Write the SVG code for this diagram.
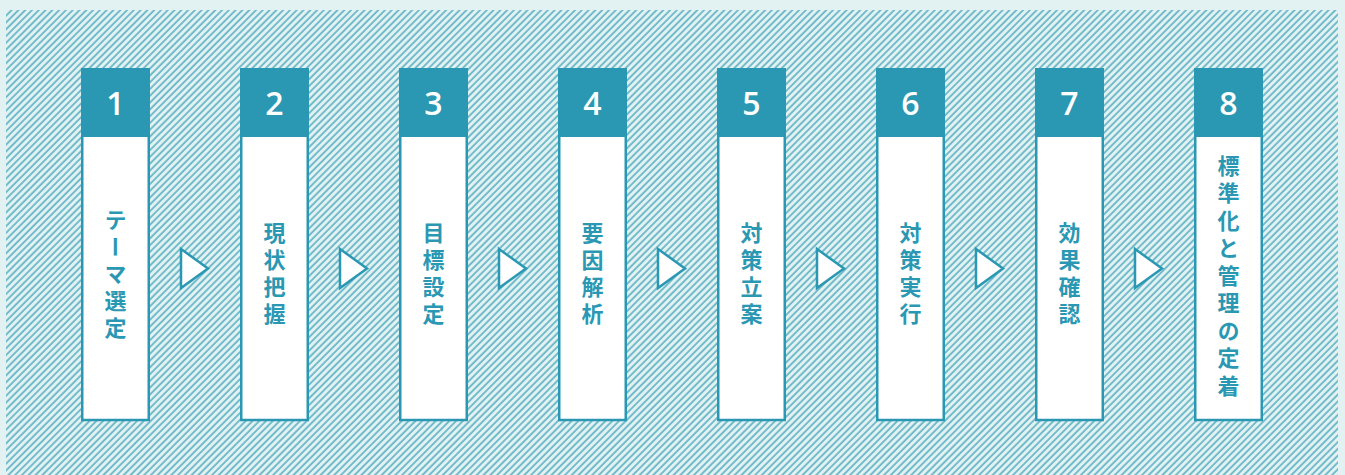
<svg xmlns="http://www.w3.org/2000/svg" width="1345" height="475" viewBox="0 0 1345 475">
<defs>
<pattern id="hatch" patternUnits="userSpaceOnUse" width="4.8" height="10" patternTransform="rotate(45)">
<rect width="4.8" height="10" fill="#e2f1f1"/>
<line x1="1" y1="0" x2="1" y2="10" stroke="#3ba1b9" stroke-width="1.3"/>
</pattern>
</defs>
<style>
.hdr{fill:#2a98b3;}
.body{fill:#ffffff;stroke:#2a98b3;stroke-width:2.5;}
.num{font-family:"Open Sans","Liberation Sans",sans-serif;font-size:32px;font-weight:600;fill:#ffffff;text-anchor:middle;}
.lbl{font-family:"Noto Sans CJK JP","Noto Sans",sans-serif;font-size:22px;font-weight:700;fill:#2a98b3;writing-mode:vertical-rl;text-anchor:middle;letter-spacing:5px;}
.arr{fill:#ffffff;stroke:#2a98b3;stroke-width:2.5;stroke-linejoin:miter;}
</style>
<rect width="1345" height="475" fill="#e2f1f1"/>
<rect x="6" y="10" width="1332" height="465" fill="url(#hatch)"/>

<g id="connectors">
<polygon class="arr" points="181,249 208,268.5 181,288"/>
<polygon class="arr" points="340,249 367,268.5 340,288"/>
<polygon class="arr" points="499,249 526,268.5 499,288"/>
<polygon class="arr" points="658,249 685,268.5 658,288"/>
<polygon class="arr" points="817,249 844,268.5 817,288"/>
<polygon class="arr" points="976,249 1003,268.5 976,288"/>
<polygon class="arr" points="1135,249 1162,268.5 1135,288"/>
</g>

<g id="step1">
<rect class="body" x="82.25" y="120" width="66.5" height="300"/>
<rect class="hdr" x="81" y="68" width="69" height="69"/>
<text class="num" x="115.5" y="115">1</text>
<text class="lbl" x="115.5" y="276">テーマ選定</text>
</g>
<g id="step2">
<rect class="body" x="241.25" y="120" width="66.5" height="300"/>
<rect class="hdr" x="240" y="68" width="69" height="69"/>
<text class="num" x="274.5" y="115">2</text>
<text class="lbl" x="274.5" y="276">現状把握</text>
</g>
<g id="step3">
<rect class="body" x="400.25" y="120" width="66.5" height="300"/>
<rect class="hdr" x="399" y="68" width="69" height="69"/>
<text class="num" x="433.5" y="115">3</text>
<text class="lbl" x="433.5" y="276">目標設定</text>
</g>
<g id="step4">
<rect class="body" x="559.25" y="120" width="66.5" height="300"/>
<rect class="hdr" x="558" y="68" width="69" height="69"/>
<text class="num" x="592.5" y="115">4</text>
<text class="lbl" x="592.5" y="276">要因解析</text>
</g>
<g id="step5">
<rect class="body" x="718.25" y="120" width="66.5" height="300"/>
<rect class="hdr" x="717" y="68" width="69" height="69"/>
<text class="num" x="751.5" y="115">5</text>
<text class="lbl" x="751.5" y="276">対策立案</text>
</g>
<g id="step6">
<rect class="body" x="877.25" y="120" width="66.5" height="300"/>
<rect class="hdr" x="876" y="68" width="69" height="69"/>
<text class="num" x="910.5" y="115">6</text>
<text class="lbl" x="910.5" y="276">対策実行</text>
</g>
<g id="step7">
<rect class="body" x="1036.25" y="120" width="66.5" height="300"/>
<rect class="hdr" x="1035" y="68" width="69" height="69"/>
<text class="num" x="1069.5" y="115">7</text>
<text class="lbl" x="1069.5" y="276">効果確認</text>
</g>
<g id="step8">
<rect class="body" x="1195.25" y="120" width="66.5" height="300"/>
<rect class="hdr" x="1194" y="68" width="69" height="69"/>
<text class="num" x="1228.5" y="115">8</text>
<text class="lbl" x="1228.5" y="278" style="letter-spacing:5.5px">標準化と管理の定着</text>
</g>
</svg>
